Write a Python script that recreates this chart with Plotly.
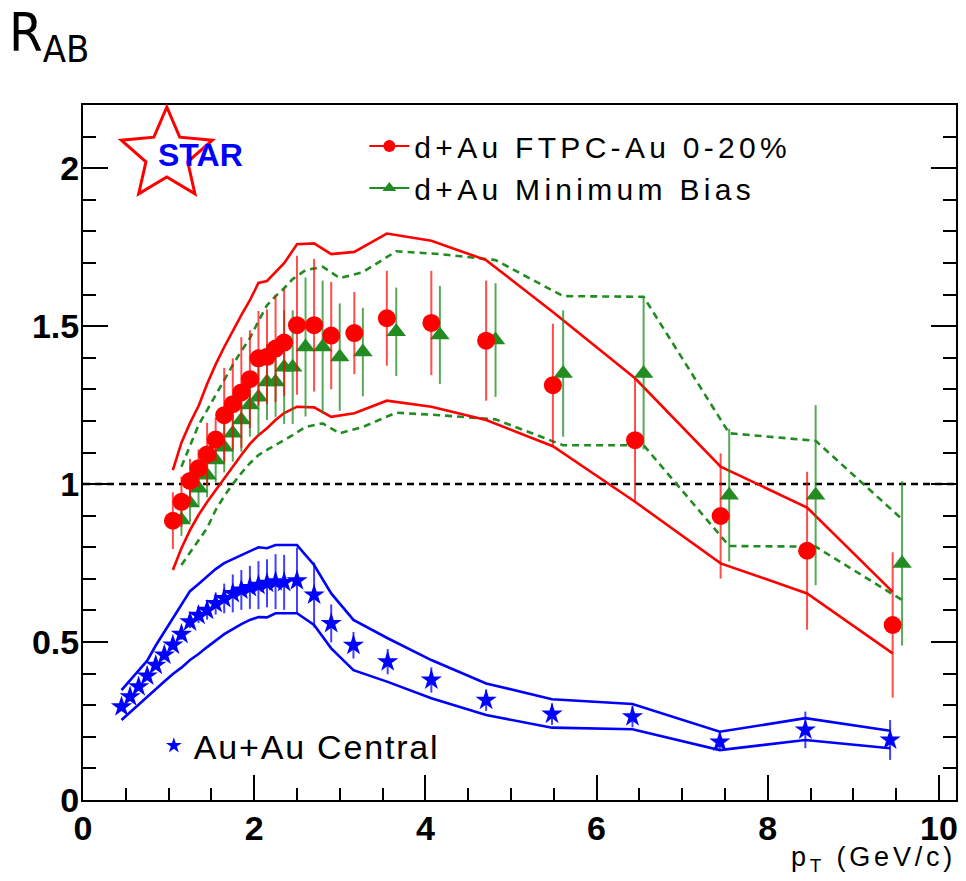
import math
import plotly.graph_objects as go

# ---------------- data ----------------
red_x = [1.05, 1.15, 1.25, 1.35, 1.45, 1.55, 1.65, 1.75, 1.85, 1.95, 2.05, 2.15, 2.25, 2.35,
         2.5, 2.7, 2.9, 3.17, 3.55, 4.07, 4.71, 5.49, 6.45, 7.45, 8.46, 9.46]
red_y = [0.884, 0.944, 1.010, 1.050, 1.094, 1.141, 1.218, 1.253, 1.290, 1.332, 1.398, 1.403, 1.429, 1.448,
         1.503, 1.503, 1.470, 1.478, 1.525, 1.510, 1.454, 1.313, 1.139, 0.899, 0.789, 0.554]
red_err = [0.09, 0.08, 0.07, 0.06, 0.10, 0.07, 0.15, 0.145, 0.175, 0.155, 0.15, 0.15, 0.17, 0.17,
           0.22, 0.21, 0.17, 0.13, 0.15, 0.165, 0.19, 0.195, 0.196, 0.198, 0.25, 0.23]
red_sys_hi = [1.044, 1.131, 1.193, 1.247, 1.317, 1.379, 1.434, 1.487, 1.535, 1.582, 1.637, 1.643, 1.671, 1.699,
              1.759, 1.762, 1.728, 1.735, 1.793, 1.770, 1.709, 1.545, 1.335, 1.055, 0.926, 0.659]
red_sys_lo = [0.728, 0.797, 0.854, 0.902, 0.943, 0.981, 1.019, 1.057, 1.092, 1.127, 1.155, 1.177, 1.203, 1.225,
              1.245, 1.243, 1.213, 1.224, 1.264, 1.245, 1.203, 1.120, 0.944, 0.749, 0.654, 0.464]

green_x = [1.15, 1.25, 1.35, 1.45, 1.55, 1.65, 1.75, 1.85, 1.95, 2.05, 2.15, 2.25, 2.35, 2.45,
           2.6, 2.8, 3.0, 3.27, 3.66, 4.17, 4.82, 5.61, 6.55, 7.55, 8.56, 9.57]
green_y = [0.886, 0.940, 0.987, 1.028, 1.076, 1.117, 1.161, 1.203, 1.250, 1.275, 1.323, 1.323, 1.370, 1.370,
           1.434, 1.434, 1.402, 1.418, 1.482, 1.472, 1.456, 1.350, 1.350, 0.965, 0.965, 0.749]
green_err = [0.05, 0.06, 0.06, 0.07, 0.07, 0.08, 0.09, 0.10, 0.10, 0.12, 0.12, 0.11, 0.18, 0.18,
             0.22, 0.21, 0.17, 0.14, 0.14, 0.155, 0.18, 0.20, 0.24, 0.21, 0.285, 0.26]
green_sys_hi = [1.055, 1.120, 1.187, 1.234, 1.282, 1.329, 1.377, 1.421, 1.462, 1.516, 1.566, 1.595, 1.620, 1.649,
                1.677, 1.688, 1.652, 1.671, 1.737, 1.728, 1.709, 1.595, 1.593, 1.161, 1.137, 0.889]
green_sys_lo = [0.744, 0.782, 0.823, 0.861, 0.918, 0.962, 1.000, 1.035, 1.066, 1.092, 1.108, 1.123, 1.139, 1.155,
                1.181, 1.192, 1.161, 1.181, 1.226, 1.218, 1.205, 1.123, 1.123, 0.804, 0.802, 0.633]

blue_x = [0.45, 0.55, 0.65, 0.75, 0.85, 0.95, 1.05, 1.15, 1.25, 1.35, 1.45, 1.55, 1.65, 1.75, 1.85, 1.95,
          2.05, 2.15, 2.25, 2.35, 2.5, 2.7, 2.9, 3.16, 3.56, 4.07, 4.71, 5.48, 6.42, 7.44, 8.44, 9.43]
blue_y = [0.295, 0.327, 0.359, 0.393, 0.427, 0.459, 0.491, 0.525, 0.564, 0.585, 0.601, 0.622, 0.638, 0.654,
          0.665, 0.673, 0.680, 0.686, 0.691, 0.689, 0.694, 0.649, 0.559, 0.490, 0.438, 0.380, 0.316, 0.272,
          0.264, 0.184, 0.222, 0.190]
blue_err = [0.01, 0.01, 0.01, 0.012, 0.012, 0.015, 0.015, 0.018, 0.02, 0.025, 0.03, 0.035, 0.047, 0.06,
            0.063, 0.068, 0.076, 0.076, 0.087, 0.087, 0.105, 0.103, 0.06, 0.042, 0.04, 0.04, 0.034, 0.034,
            0.034, 0.029, 0.058, 0.063]
blue_sys_hi = [0.348, 0.380, 0.411, 0.441, 0.489, 0.532, 0.574, 0.617, 0.661, 0.684, 0.709, 0.731, 0.750, 0.763,
               0.775, 0.788, 0.800, 0.797, 0.807, 0.807, 0.807, 0.744, 0.654, 0.570, 0.512, 0.443, 0.369, 0.319,
               0.304, 0.216, 0.259, 0.219]
blue_sys_lo = [0.253, 0.278, 0.302, 0.326, 0.351, 0.375, 0.399, 0.419, 0.443, 0.462, 0.484, 0.506, 0.525, 0.541,
               0.557, 0.570, 0.579, 0.578, 0.591, 0.591, 0.591, 0.554, 0.480, 0.411, 0.374, 0.322, 0.269, 0.229,
               0.224, 0.158, 0.190, 0.164]

x_range = [0, 10.2]
y_range = [0, 2.2]
names = ["d+Au FTPC-Au 0-20%", "d+Au Minimum Bias", "Au+Au Central"]

# ---------------- layout geometry ----------------
W, H = 966, 881
ML, MR, MT, MB = 83, 8, 105, 81
PW, PH = W - ML - MR, H - MT - MB


def paper(px, py):
    return (px - ML) / PW, (H - MB - py) / PH


RED = "#ff0000"
GREEN = "#228b22"
BLUE = "#0000ff"
FONT = "Liberation Sans, Arial, Helvetica, sans-serif"

fig = go.Figure()

# systematic bands
for hi, lo, col, dash in [(green_sys_hi, green_sys_lo, GREEN, "7px,5px"),
                          (red_sys_hi, red_sys_lo, RED, "solid")]:
    xs = green_x if col == GREEN else red_x
    for arr in (hi, lo):
        fig.add_trace(go.Scatter(x=xs, y=arr, mode="lines", showlegend=False, hoverinfo="skip",
                                 line=dict(color=col, width=2.6, dash=dash)))
for arr in (blue_sys_hi, blue_sys_lo):
    fig.add_trace(go.Scatter(x=blue_x, y=arr, mode="lines", showlegend=False, hoverinfo="skip",
                             line=dict(color=BLUE, width=2.6)))

# data points
fig.add_trace(go.Scatter(x=green_x, y=green_y, mode="markers", showlegend=False,
                         marker=dict(symbol="triangle-up", size=17, color=GREEN),
                         error_y=dict(type="data", array=green_err, thickness=2, width=0,
                                      color="rgba(34,139,34,0.75)")))
fig.add_trace(go.Scatter(x=red_x, y=red_y, mode="markers", showlegend=False,
                         marker=dict(symbol="circle", size=18, color=RED),
                         error_y=dict(type="data", array=red_err, thickness=2, width=0,
                                      color="rgba(255,0,0,0.7)")))
fig.add_trace(go.Scatter(x=blue_x, y=blue_y, mode="markers", showlegend=False,
                         marker=dict(symbol="star", size=16, color=BLUE),
                         error_y=dict(type="data", array=blue_err, thickness=2, width=0,
                                      color="rgba(0,0,255,0.75)")))

# legend-only entries
ls = '<span style="letter-spacing:4.3px">%s</span>'
fig.add_trace(go.Scatter(x=[None], y=[None], mode="lines+markers", name=ls % names[0], legend="legend",
                         marker=dict(symbol="circle", size=12, color=RED), line=dict(color=RED, width=2)))
fig.add_trace(go.Scatter(x=[None], y=[None], mode="lines+markers", name=ls % names[1], legend="legend",
                         marker=dict(symbol="triangle-up", size=12, color=GREEN), line=dict(color=GREEN, width=2)))
fig.add_trace(go.Scatter(x=[None], y=[None], mode="markers", legend="legend2",
                         name='<span style="letter-spacing:1.8px">%s</span>' % names[2],
                         marker=dict(symbol="star", size=12, color=BLUE)))

# STAR logo star outline
cx, cy, Ro, Ri = 167, 155, 48, 22
pts = []
for k in range(10):
    a = math.radians(90 + 36 * k)
    r = Ro if k % 2 == 0 else Ri
    pts.append(paper(cx + r * math.cos(a), cy - r * math.sin(a)))
path = "M " + " L ".join("%.5f,%.5f" % p for p in pts) + " Z"

shapes = [
    dict(type="line", xref="paper", x0=0, x1=1, yref="y", y0=1, y1=1, layer="below",
         line=dict(color="black", width=2.5, dash="7px,5px")),
    dict(type="path", xref="paper", yref="paper", path=path, line=dict(color=RED, width=3)),
]

sx, sy = paper(201, 155)
rx, ry = paper(8, 0)
tx, ty = paper(960, 859)
annotations = [
    dict(xref="paper", yref="paper", x=sx, y=sy, xanchor="center", yanchor="middle", showarrow=False,
         text="<b>STAR</b>", font=dict(family=FONT, size=32, color=BLUE)),
    dict(xref="paper", yref="paper", x=rx, y=ry, xanchor="left", yanchor="top", showarrow=False,
         borderpad=0, text="R<sub>AB</sub>",
         font=dict(family="Liberation Sans Narrow, DejaVu Sans Condensed, sans-serif", size=54, color="black")),
    dict(xref="paper", yref="paper", x=tx, y=ty, xanchor="right", yanchor="middle", showarrow=False,
         text='<span style="letter-spacing:3.8px">p<sub>T</sub> (GeV/c)</span>',
         font=dict(family=FONT, size=27, color="black")),
]

l1x, l1y = paper(365, 120)
l2x, l2y = paper(154, 746)

fig.update_layout(
    width=W, height=H,
    margin=dict(l=ML, r=MR, t=MT, b=MB),
    paper_bgcolor="white", plot_bgcolor="white",
    shapes=shapes, annotations=annotations,
    legend=dict(x=l1x, y=l1y, xanchor="left", yanchor="top", bgcolor="rgba(0,0,0,0)",
                font=dict(family=FONT, size=30, color="black"), itemwidth=40, tracegroupgap=0),
    legend2=dict(x=l2x, y=l2y, xanchor="left", yanchor="middle", bgcolor="rgba(0,0,0,0)",
                 font=dict(family=FONT, size=34, color="black"), itemwidth=30),
    xaxis=dict(range=x_range, dtick=2, tick0=0, ticks="inside", ticklen=25, tickwidth=2, tickcolor="black",
               showline=True, linewidth=2, linecolor="black", mirror=True, showgrid=False, zeroline=False,
               tickfont=dict(family=FONT, size=34, color="black", weight="bold"), ticklabelstandoff=-3,
               minor=dict(dtick=0.5, ticks="inside", ticklen=12, tickwidth=2, tickcolor="black", showgrid=False)),
    yaxis=dict(range=y_range, dtick=0.5, tick0=0, ticks="inside", ticklen=25, tickwidth=2, tickcolor="black",
               showline=True, linewidth=2, linecolor="black", mirror="allticks", showgrid=False, zeroline=False,
               tickfont=dict(family=FONT, size=34, color="black", weight="bold"), ticklabelstandoff=-5,
               minor=dict(dtick=0.1, ticks="inside", ticklen=13, tickwidth=2, tickcolor="black", showgrid=False)),
)

fig.write_html("out.html")
